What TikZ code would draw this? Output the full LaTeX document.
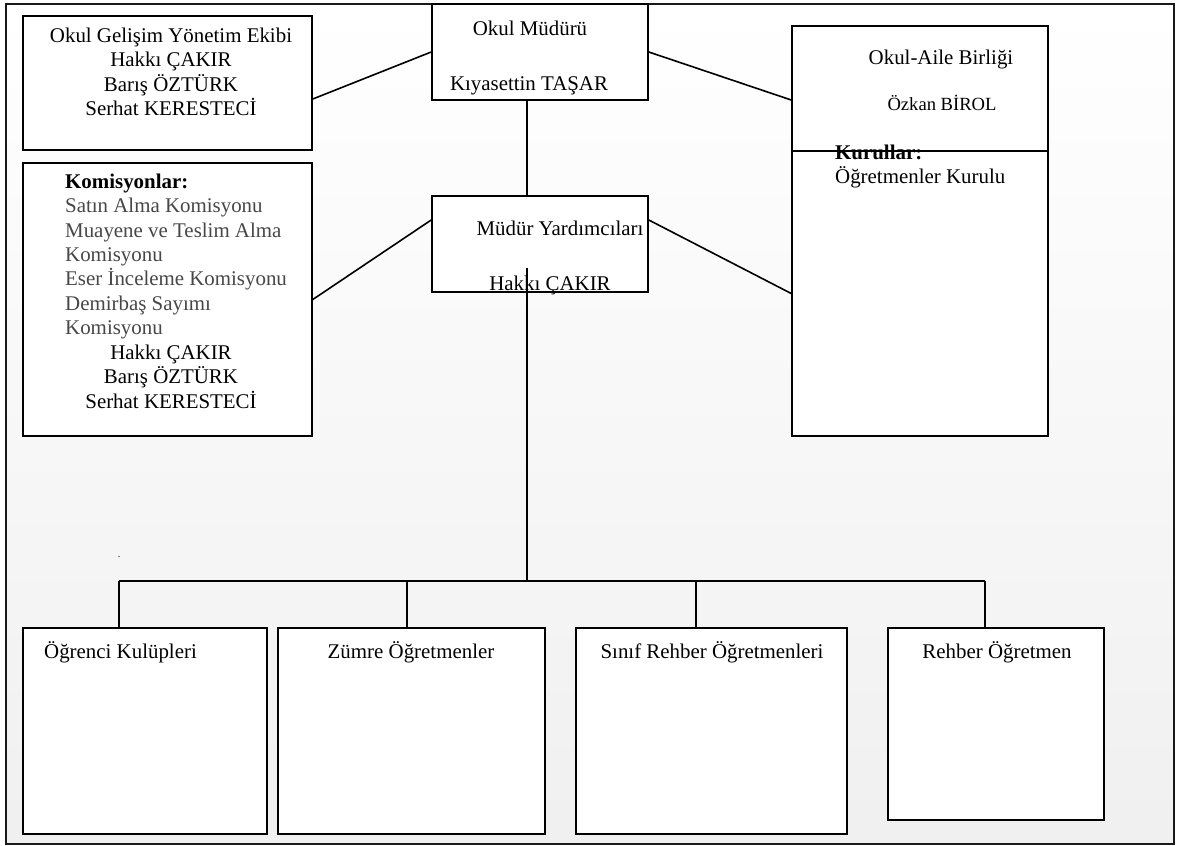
\documentclass[tikz,border=0pt]{standalone}
\usepackage{fontspec}
\setmainfont{Liberation Serif}
\newcommand\mystrut{\rule{0pt}{20pt}}
\definecolor{listgray}{gray}{0.28}
\begin{document}
\begin{tikzpicture}[x=1pt,y=-1pt,
  box/.style={draw=black, line width=1.6pt, fill=white, rectangle, inner sep=0pt},
  txt/.style={inner sep=0pt, font=\fontsize{20.9pt}{24.4pt}\selectfont},
  smalltxt/.style={inner sep=0pt, font=\fontsize{18.6pt}{22pt}\selectfont},
  link/.style={draw=black, line width=1.6pt},
  frame/.style={draw=black!90, line width=1.7pt}]
\useasboundingbox (0,0) rectangle (1178,846);
% background frame with soft gradient
\shade[top color=white, bottom color=black!6] (6,4) rectangle (1174,844);
\draw[frame] (6,4) rectangle (1174,844);

% boxes
\node[box, minimum width=289pt, minimum height=134pt] (gel) at (167.5,83) {};
\node[box, minimum width=216pt, minimum height=96pt] (mudur) at (540,52) {};
\node[box, minimum width=256pt, minimum height=285pt] (kurul) at (920,293.5) {};
\node[box, minimum width=256pt, minimum height=125pt] (aile) at (920,88.5) {};
\node[box, minimum width=216pt, minimum height=96pt] (yrd) at (540,244) {};
\node[box, minimum width=289pt, minimum height=273pt] (kom) at (167.5,299.5) {};
\node[box, minimum width=244pt, minimum height=206pt] (ogr) at (145,731) {};
\node[box, minimum width=267pt, minimum height=206pt] (zum) at (411.5,731) {};
\node[box, minimum width=271pt, minimum height=206pt] (sinif) at (711.5,731) {};
\node[box, minimum width=216pt, minimum height=192pt] (reh) at (996,724) {};

% texts
\node[txt, anchor=north, align=center] (gelT) at (171,22)
  {\mystrut Okul Gelişim Yönetim Ekibi\\Hakkı ÇAKIR\\Barış ÖZTÜRK\\Serhat KERESTECİ};
\node[txt, anchor=base] (mudurT1) at (530,35) {Okul Müdürü};
\node[txt, anchor=base] (mudurT2) at (529,90) {Kıyasettin TAŞAR};
\node[txt, anchor=base] (aileT1) at (941,64) {Okul-Aile Birliği};
\node[smalltxt, anchor=base] (aileT2) at (942,110) {Özkan BİROL};
\node[txt, anchor=north west, align=left] (kurulT) at (835,139)
  {\mystrut\textbf{Kurullar:}\\Öğretmenler Kurulu};
\node[txt, anchor=base] (yrdT1) at (560,235) {Müdür Yardımcıları};
\node[txt, anchor=base] (yrdT2) at (550,290) {Hakkı ÇAKIR};
\node[txt, anchor=north west, align=left] (komT) at (65,168)
  {\mystrut\textbf{Komisyonlar:}\\
   \textcolor{listgray}{Satın Alma Komisyonu}\\
   \textcolor{listgray}{Muayene ve Teslim Alma}\\
   \textcolor{listgray}{Komisyonu}\\
   \textcolor{listgray}{Eser İnceleme Komisyonu}\\
   \textcolor{listgray}{Demirbaş Sayımı}\\
   \textcolor{listgray}{Komisyonu}};
\node[txt, anchor=north, align=center] (komN) at (171,339)
  {\mystrut Hakkı ÇAKIR\\Barış ÖZTÜRK\\Serhat KERESTECİ};
\node[txt, anchor=base west] (ogrT) at (44,658) {Öğrenci Kulüpleri};
\node[txt, anchor=base] (zumT) at (411,658) {Zümre Öğretmenler};
\node[txt, anchor=base] (sinifT) at (712,658) {Sınıf Rehber Öğretmenleri};
\node[txt, anchor=base] (rehT) at (997,658) {Rehber Öğretmen};
\node[inner sep=0pt, anchor=base, font=\fontsize{10pt}{12pt}\selectfont] (dot) at (119,557) {.};

% connector points
\coordinate (vtop) at (527,268);
\coordinate (d1) at (119,581);
\coordinate (d2) at (407,581);
\coordinate (d3) at (696,581);
\coordinate (d4) at (985,581);
\coordinate (busc) at (527,581);

% connectors
\draw[link] ([yshift=-16pt]gel.east) -- (mudur.west);
\draw[link] (mudur.east) -- ([yshift=-11.5pt]aile.west);
\draw[link] ([xshift=-13pt]mudur.south) -- ([xshift=-13pt]yrd.north);
\draw[link] ([yshift=24pt]yrd.west) -- (kom.east);
\draw[link] ([yshift=24pt]yrd.east) -- (kurul.west);
\draw[link] (vtop) -- (busc);
\draw[link] (d1) -- (d4);
\draw[link] (d1) -- (d1 |- ogr.north);
\draw[link] (d2) -- (d2 |- zum.north);
\draw[link] (d3) -- (d3 |- sinif.north);
\draw[link] (d4) -- (d4 |- reh.north);
\end{tikzpicture}
\end{document}
